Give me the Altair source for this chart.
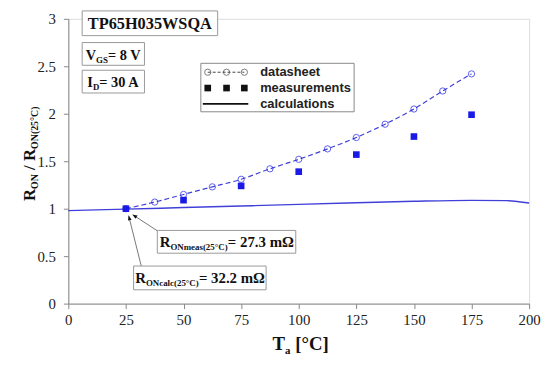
import math
import altair as alt
import pandas as pd

# ---------------- data ----------------
ds_temp = [25, 37.5, 50, 62.5, 75, 87.5, 100, 112.5, 125, 137.5, 150, 162.5, 175]
ds_ratio = [1.00, 1.07, 1.15, 1.23, 1.31, 1.42, 1.52, 1.63, 1.75, 1.89, 2.05, 2.24, 2.42]

meas_temp = [25, 50, 75, 100, 125, 150, 175]
meas_ratio = [1.00, 1.09, 1.24, 1.39, 1.57, 1.76, 1.99]

calc_temp = [0, 25, 50, 75, 100, 125, 150, 175, 190, 200]
calc_ratio = [0.98, 0.995, 1.012, 1.028, 1.045, 1.062, 1.078, 1.088, 1.085, 1.06]

x_ticks = [0, 25, 50, 75, 100, 125, 150, 175, 200]
y_ticks = [0, 0.5, 1, 1.5, 2, 2.5, 3]

legend_labels = ["datasheet", "measurements", "calculations"]

W, H = 466, 288
SERIF = "Liberation Serif"
SANS = "Liberation Sans"
BLUE_LINE = "#4040d8"
BLUE_PT = "#1a1ae6"

ds = pd.DataFrame({"T": ds_temp, "r": ds_ratio})
ms = pd.DataFrame({"T": meas_temp, "r": meas_ratio})
cs = pd.DataFrame({"T": calc_temp, "r": calc_ratio})
one = pd.DataFrame({"k": [0]})

xs = alt.Scale(domain=[0, 200], nice=False)
ys = alt.Scale(domain=[0, 3], nice=False)
xax = alt.Axis(values=x_ticks, title=None, grid=False, labelFont=SERIF, labelFontSize=15,
               labelColor="#222", domainColor="#888", tickColor="#888", tickSize=5,
               labelPadding=4, labelFlush=False)
yax = alt.Axis(values=y_ticks, title=None, grid=False, labelFont=SERIF, labelFontSize=15,
               labelColor="#222", domainColor="#888", tickColor="#888", tickSize=5,
               labelPadding=8, format="~g")

calc_line = alt.Chart(cs).mark_line(color=BLUE_LINE, strokeWidth=1.4, interpolate="monotone").encode(
    x=alt.X("T:Q", scale=xs, axis=xax), y=alt.Y("r:Q", scale=ys, axis=yax))
ds_line = alt.Chart(ds).mark_line(color=BLUE_LINE, strokeWidth=1.2, strokeDash=[5, 3],
                                  interpolate="monotone").encode(x=alt.X("T:Q", scale=xs), y=alt.Y("r:Q", scale=ys))
ds_pts = alt.Chart(ds).mark_point(shape="circle", filled=False, size=40, color=BLUE_PT, strokeWidth=1).encode(
    x=alt.X("T:Q", scale=xs), y=alt.Y("r:Q", scale=ys))
ms_pts = alt.Chart(ms).mark_square(size=45, color=BLUE_PT, opacity=1).encode(
    x=alt.X("T:Q", scale=xs), y=alt.Y("r:Q", scale=ys))

layers = [calc_line, ds_line, ds_pts, ms_pts]

# ---------------- helpers ----------------
WID = {" ": .25, "(": .333, ")": .333, ".": .25, "/": .278, "=": .57, "[": .333, "]": .333,
       "A": .722, "C": .722, "D": .722, "G": .778, "H": .778, "I": .389, "N": .722, "O": .778,
       "P": .611, "Q": .778, "R": .722, "S": .556, "T": .667, "V": .722, "W": 1.0,
       "a": .5, "c": .444, "e": .444, "l": .278, "m": .833, "s": .389, "°": .4, "Ω": .77}


def tw(s, size):
    return sum(WID.get(c, .5) for c in s) * size


def rect(x1, y1, x2, y2, stroke="#999"):
    return alt.Chart(one).mark_rect(fill="white", stroke=stroke, strokeWidth=1).encode(
        x=alt.value(x1), x2=alt.value(x2), y=alt.value(y1), y2=alt.value(y2))


def composite(segs, x, y, center=True, angle=None, color="#111"):
    total = sum(tw(t, s) for t, s, _ in segs)
    off = -total / 2 if center else 0
    out = []
    for t, s, dy in segs:
        lead = len(t) - len(t.lstrip(" "))
        shown = t.strip(" ")
        kw = dict(align="left", baseline="alphabetic", font=SERIF, fontWeight="bold",
                  fontSize=s, dx=off + tw(" " * lead, s), dy=dy, color=color)
        if angle is not None:
            kw["angle"] = angle
        out.append(alt.Chart(one).mark_text(**kw).encode(
            x=alt.value(x), y=alt.value(y), text=alt.value(shown)))
        off += tw(t, s)
    return out, total


def arrow(x1, y1, x2, y2):
    ang = math.degrees(math.atan2(x2 - x1, -(y2 - y1))) % 360
    line = alt.Chart(one).mark_rule(color="#777", strokeWidth=1).encode(
        x=alt.value(x1), y=alt.value(y1), x2=alt.value(x2), y2=alt.value(y2))
    head = alt.Chart(one).mark_point(shape="M0,0L-0.4,1L0.4,1Z", filled=True, color="#111",
                                     size=90, angle=ang, opacity=1).encode(
        x=alt.value(x2), y=alt.value(y2))
    return [line, head]


# ---------------- annotation boxes ----------------
layers.append(rect(14, -8, 151, 17))
t, _ = composite([("TP65H035WSQA", 16.5, 0)], 82.5, 10.5)
layers += t
layers.append(rect(14, 24, 77, 47))
t, _ = composite([("V", 14.5, 0), ("GS", 9, 3), ("= 8 V", 14.5, 0)], 45.5, 41.5)
layers += t
layers.append(rect(14, 52, 77, 75))
t, _ = composite([("I", 14.5, 0), ("D", 9, 3), ("= 30 A", 14.5, 0)], 45.5, 69)
layers += t

# arrows to 25 °C point
layers += arrow(91, 215, 65, 198)
layers += arrow(74, 251, 61, 199)

layers.append(rect(90, 214, 230, 237))
t, _ = composite([("R", 15, 0), ("ONmeas(25°C)", 9, 3), ("= 27.3 mΩ", 15, 0)], 160, 231)
layers += t
layers.append(rect(66, 250, 200, 274))
t, _ = composite([("R", 15, 0), ("ONcalc(25°C)", 9, 3), ("= 32.2 mΩ", 15, 0)], 133, 267.5)
layers += t

# ---------------- legend ----------------
layers.append(rect(134, 45, 289, 94, stroke="#888"))
LG = "#444"
rows_y = [54, 70, 86]
sym_x = [141, 160, 178]
layers.append(alt.Chart(one).mark_rule(color=LG, strokeWidth=1, strokeDash=[3, 2]).encode(
    x=alt.value(sym_x[0]), x2=alt.value(sym_x[2]), y=alt.value(rows_y[0])))
for sx in sym_x:
    layers.append(alt.Chart(one).mark_point(shape="circle", filled=False, size=40, color=LG,
                                            strokeWidth=1).encode(x=alt.value(sx), y=alt.value(rows_y[0])))
    layers.append(alt.Chart(one).mark_square(size=45, color="#111", opacity=1).encode(
        x=alt.value(sx), y=alt.value(rows_y[1])))
layers.append(alt.Chart(one).mark_rule(color="#111", strokeWidth=2).encode(
    x=alt.value(136), x2=alt.value(182), y=alt.value(rows_y[2])))
for lab, ry in zip(legend_labels, rows_y):
    layers.append(alt.Chart(one).mark_text(align="left", baseline="middle", font=SANS,
                                           fontWeight="bold", fontSize=13, color="#222").encode(
        x=alt.value(194), y=alt.value(ry), text=alt.value(lab)))

# ---------------- axis titles ----------------
t, _ = composite([("T", 19, 0), ("a", 11, 3.5), (" [°C]", 19, 0)], 235, 335)
layers += t
ysegs = [("R", 17, 0), ("ON", 10, 3), (" / ", 17, 0), ("R", 17, 0), ("ON(25°C)", 10, 3)]
ytot = sum(tw(a, b) for a, b, _ in ysegs)
t, _ = composite(ysegs, -34, 136.5 + ytot / 2, center=False, angle=270)
layers += t

chart = alt.layer(*layers).properties(
    width=W, height=H,
    autosize=alt.AutoSizeParams(type="none"),
    padding={"left": 61, "top": 9, "right": 13, "bottom": 50},
).configure_view(stroke="#888", strokeWidth=1).configure(background="white")

chart.save("out.html", embed_options={"renderer": "svg", "actions": False})
